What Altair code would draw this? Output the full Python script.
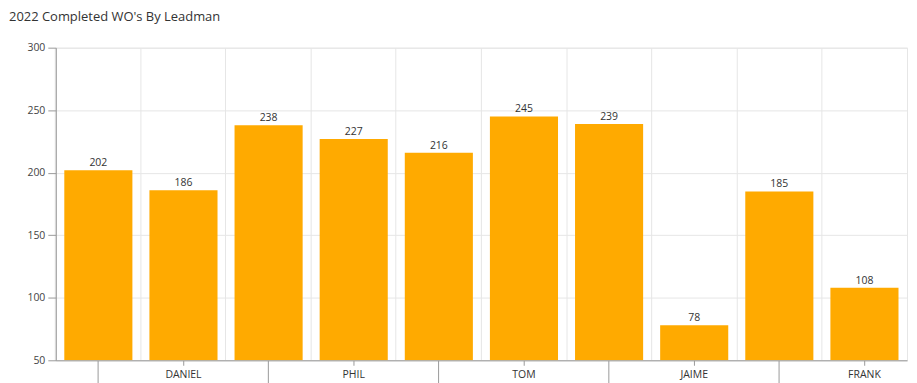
import altair as alt
import pandas as pd

# Data
leadmen = ["Leadman 1", "DANIEL", "Leadman 3", "PHIL", "Leadman 5",
           "TOM", "Leadman 7", "JAIME", "Leadman 9", "FRANK"]
completed = [202, 186, 238, 227, 216, 245, 239, 78, 185, 108]
hidden_labels = ["Leadman 1", "Leadman 3", "Leadman 5", "Leadman 7", "Leadman 9"]
y_ticks = [50, 100, 150, 200, 250, 300]
title_text = "2022 Completed WO's By Leadman"

df = pd.DataFrame({"Leadman": leadmen, "Completed": completed})

FONT = "Open Sans"
hidden_js = "[" + ",".join("'" + h + "'" for h in hidden_labels) + "]"
hide_test = f"indexof({hidden_js}, datum.value) >= 0"

x_scale = alt.Scale(domain=leadmen, paddingInner=0.2, paddingOuter=0.1)
y_scale = alt.Scale(domain=[50, 300], zero=False, nice=False)

base = alt.Chart(df)

bars = base.mark_bar(color="#FFAA00", clip=True).encode(
    x=alt.X("Leadman:N", scale=x_scale, sort=leadmen,
            axis=alt.Axis(title=None, orient="bottom", grid=False, labelAngle=0,
                          labelExpr=f"{hide_test} ? '' : datum.label",
                          labelFont=FONT, labelFontSize=10.5, labelColor="#333",
                          labelPadding=4,
                          tickColor="#999", domainColor="#999",
                          tickSize={"condition": {"test": hide_test, "value": 30}, "value": 5})),
    y=alt.Y("Completed:Q", scale=y_scale,
            axis=alt.Axis(title=None, values=y_ticks, tickSize=8, tickColor="#999",
                          domainColor="#999", gridColor="#e6e6e6",
                          labelFont=FONT, labelFontSize=10.5, labelColor="#444",
                          labelPadding=3)),
    y2=alt.datum(50),
)

labels = base.mark_text(baseline="bottom", dy=-2, font=FONT, fontSize=10.5,
                        color="#333").encode(
    x=alt.X("Leadman:N", scale=x_scale, sort=leadmen, axis=None),
    y=alt.Y("Completed:Q", scale=y_scale),
    text=alt.Text("Completed:Q"),
)

vgrid = base.mark_bar(opacity=0).encode(
    x=alt.X("Leadman:N", scale=x_scale, sort=leadmen,
            axis=alt.Axis(title=None, orient="top", grid=True, bandPosition=-0.125,
                          gridColor="#e6e6e6", labels=False, ticks=False,
                          domain=False)),
    y=alt.Y("Completed:Q", scale=y_scale),
    y2=alt.datum(50),
)

chart = alt.layer(vgrid, bars, labels).resolve_axis(x="independent").properties(
    width=855,
    height=314,
    autosize=alt.AutoSizeParams(type="none"),
    padding={"left": 48, "top": 39, "right": 2, "bottom": 30},
    title=alt.TitleParams(title_text, anchor="start", frame="group", dx=-47,
                          font=FONT, fontSize=13, fontWeight="normal",
                          color="#333", offset=19),
).configure_view(stroke="#e6e6e6")

chart.save("out.html", embed_options={"renderer": "svg", "actions": False})
